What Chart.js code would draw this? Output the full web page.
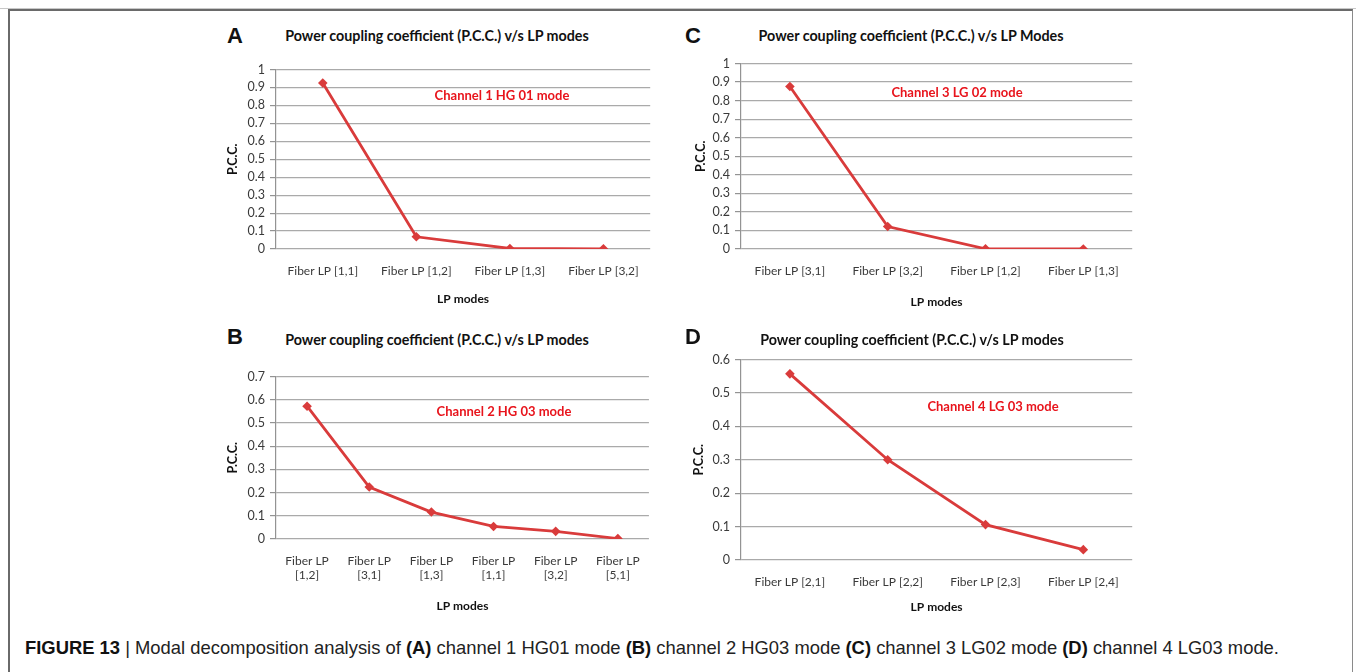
<!DOCTYPE html>
<html>
<head>
<meta charset="utf-8">
<title>Modal decomposition analysis</title>
<script src="https://cdn.jsdelivr.net/npm/chart.js@4.4.1/dist/chart.umd.min.js"></script>
<style>
  html, body { margin: 0; padding: 0; background: #fff; }
  body { width: 1356px; height: 672px; position: relative; overflow: hidden; font-family: Lato, "Open Sans", sans-serif; }
  .topline { position: absolute; left: 0; top: 8px; width: 1356px; height: 1px; background: #c8c8c8; }
  .frame { position: absolute; left: 8px; top: 9px; width: 1342px; height: 700px; border: 2px solid #6a6a6a; border-bottom: none; border-right: 1px solid #8a8a8a; }
  canvas { position: absolute; }
  .txt { position: absolute; transform: translate(-50%, -50%); white-space: nowrap; }
  .letter { font-family: "Liberation Sans", Arial, sans-serif; font-weight: bold; font-size: 22px; color: #111; }
  .title { font-weight: bold; font-size: 14.3px; color: #111; }
  .note { font-weight: bold; font-size: 13px; color: #e8141c; }
  .caption { position: absolute; left: 25px; top: 637px; font-family: "Liberation Sans", Arial, sans-serif; font-size: 18.4px; color: #222; white-space: nowrap; }
  .caption b { color: #111; }
</style>
</head>
<body>
<div class="topline"></div>
<div class="frame"></div>

<canvas id="chartA"></canvas>
<canvas id="chartB"></canvas>
<canvas id="chartC"></canvas>
<canvas id="chartD"></canvas>

<div class="txt letter" style="left:235px; top:36px;">A</div>
<div class="txt title" style="left:437px; top:35px;">Power coupling coefficient (P.C.C.) v/s LP modes</div>
<div class="txt note" style="left:502px; top:95px;">Channel 1 HG 01 mode</div>

<div class="txt letter" style="left:235px; top:337px;">B</div>
<div class="txt title" style="left:437px; top:339px;">Power coupling coefficient (P.C.C.) v/s LP modes</div>
<div class="txt note" style="left:504px; top:411px;">Channel 2 HG 03 mode</div>

<div class="txt letter" style="left:693px; top:36px;">C</div>
<div class="txt title" style="left:911px; top:35px;">Power coupling coefficient (P.C.C.) v/s LP Modes</div>
<div class="txt note" style="left:957px; top:92px;">Channel 3 LG 02 mode</div>

<div class="txt letter" style="left:693px; top:337px;">D</div>
<div class="txt title" style="left:912px; top:339px;">Power coupling coefficient (P.C.C.) v/s LP modes</div>
<div class="txt note" style="left:993px; top:406px;">Channel 4 LG 03 mode</div>

<div class="caption"><b>FIGURE 13</b> | Modal decomposition analysis of <b>(A)</b> channel 1 HG01 mode <b>(B)</b> channel 2 HG03 mode <b>(C)</b> channel 3 LG02 mode <b>(D)</b> channel 4 LG03 mode.</div>

<script>
// Channel 1 HG01 mode
const modesA = ['Fiber LP [1,1]', 'Fiber LP [1,2]', 'Fiber LP [1,3]', 'Fiber LP [3,2]'];
const pccA = [0.925, 0.068, 0.003, 0.001];
const yTicksA = [0, 0.1, 0.2, 0.3, 0.4, 0.5, 0.6, 0.7, 0.8, 0.9, 1];

// Channel 2 HG03 mode (two-line category labels)
const modesB = [['Fiber LP', '[1,2]'], ['Fiber LP', '[3,1]'], ['Fiber LP', '[1,3]'],
                ['Fiber LP', '[1,1]'], ['Fiber LP', '[3,2]'], ['Fiber LP', '[5,1]']];
const pccB = [0.572, 0.224, 0.116, 0.054, 0.033, 0.002];
const yTicksB = [0, 0.1, 0.2, 0.3, 0.4, 0.5, 0.6, 0.7];

// Channel 3 LG02 mode
const modesC = ['Fiber LP [3,1]', 'Fiber LP [3,2]', 'Fiber LP [1,2]', 'Fiber LP [1,3]'];
const pccC = [0.876, 0.121, 0.001, 0.0];
const yTicksC = [0, 0.1, 0.2, 0.3, 0.4, 0.5, 0.6, 0.7, 0.8, 0.9, 1];

// Channel 4 LG03 mode
const modesD = ['Fiber LP [2,1]', 'Fiber LP [2,2]', 'Fiber LP [2,3]', 'Fiber LP [2,4]'];
const pccD = [0.557, 0.30, 0.106, 0.031];
const yTicksD = [0, 0.1, 0.2, 0.3, 0.4, 0.5, 0.6];

const LINE_RED = '#d93b3b';
const GRID_GREY = '#aaaaaa';
const AXIS_GREY = '#939393';
const TICK_TEXT = '#3a3a3a';
const FONT = 'Lato';

// Canvas boxes and fixed axis sizes so every plot area sits where it should
const layouts = {
    chartA: { left: 215, top: 57, width: 440, height: 258, padTop: 12, yW: 61, xH: 66, yTitlePad: 10, xTitlePad: 9 },
    chartB: { left: 215, top: 364, width: 440, height: 258, padTop: 12, yW: 61, xH: 83, yTitlePad: 10, xTitlePad: 9 },
    chartC: { left: 680, top: 51, width: 457, height: 267, padTop: 12, yW: 61, xH: 69, yTitlePad: 13, xTitlePad: 9 },
    chartD: { left: 680, top: 347, width: 457, height: 276, padTop: 12, yW: 61, xH: 63, yTitlePad: 11, xTitlePad: 9 }
};

function makePanel(id, modes, values, yTicks) {
    const box = layouts[id];
    const canvas = document.getElementById(id);
    canvas.width = box.width;
    canvas.height = box.height;
    canvas.style.left = box.left + 'px';
    canvas.style.top = box.top + 'px';

    return new Chart(canvas, {
        type: 'line',
        data: {
            labels: modes,
            datasets: [{
                data: values,
                borderColor: LINE_RED,
                backgroundColor: LINE_RED,
                borderWidth: 2.8,
                pointStyle: 'rectRot',
                pointRadius: 4.8,
                pointBorderWidth: 0,
                tension: 0
            }]
        },
        options: {
            responsive: false,
            animation: false,
            devicePixelRatio: 1,
            layout: { padding: { top: box.padTop, right: 2, left: 0, bottom: 0 } },
            plugins: { legend: { display: false }, tooltip: { enabled: false } },
            scales: {
                x: {
                    offset: true,
                    grid: { display: false, drawTicks: false },
                    border: { display: false },
                    ticks: {
                        autoSkip: false,
                        maxRotation: 0,
                        padding: 15,
                        color: TICK_TEXT,
                        font: { family: FONT, size: 12 }
                    },
                    title: {
                        display: true,
                        text: 'LP modes',
                        color: '#111',
                        font: { family: FONT, size: 12, weight: 'bold' },
                        padding: { top: 0, bottom: box.xTitlePad }
                    },
                    afterFit: s => { s.height = box.xH; }
                },
                y: {
                    min: yTicks[0],
                    max: yTicks[yTicks.length - 1],
                    afterBuildTicks: s => { s.ticks = yTicks.map(v => ({ value: v })); },
                    grid: { color: GRID_GREY, lineWidth: 1.2, tickLength: 6, tickColor: AXIS_GREY },
                    border: { display: true, color: AXIS_GREY, width: 1.2 },
                    ticks: {
                        autoSkip: false,
                        padding: 5,
                        color: TICK_TEXT,
                        font: { family: FONT, size: 12.5 },
                        callback: v => String(v)
                    },
                    title: {
                        display: true,
                        text: 'P.C.C.',
                        color: '#111',
                        font: { family: FONT, size: 12.5, weight: 'bold' },
                        padding: { top: box.yTitlePad, bottom: 0 }
                    },
                    afterFit: s => { s.width = box.yW; }
                }
            }
        }
    });
}

makePanel('chartA', modesA, pccA, yTicksA);
makePanel('chartB', modesB, pccB, yTicksB);
makePanel('chartC', modesC, pccC, yTicksC);
makePanel('chartD', modesD, pccD, yTicksD);
</script>
</body>
</html>
